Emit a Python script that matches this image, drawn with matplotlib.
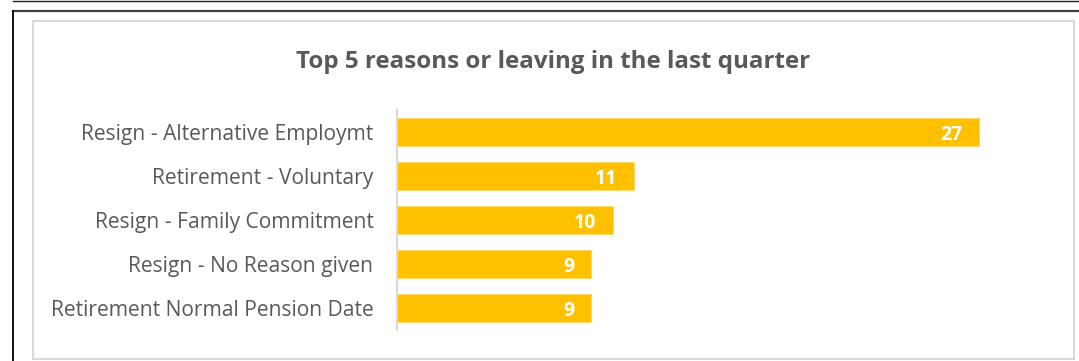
import matplotlib
matplotlib.use('Agg')
import matplotlib.pyplot as plt
from matplotlib.lines import Line2D
from matplotlib.patches import Rectangle

reasons = ['Resign - Alternative Employmt', 'Retirement - Voluntary',
           'Resign - Family Commitment', 'Resign - No Reason given',
           'Retirement Normal Pension Date']
counts = [27, 11, 10, 9, 9]
title = 'Top 5 reasons or leaving in the last quarter'

W, H = 1079, 361
plt.rcParams['font.family'] = ['Open Sans', 'DejaVu Sans']
fig = plt.figure(figsize=(W / 100, H / 100), dpi=100)

# outer frame lines (page border)
fig.add_artist(Line2D([13 / W, 1], [1 - 0.5 / H, 1 - 0.5 / H], color='#222222', lw=1.0))
fig.add_artist(Line2D([13 / W, 1], [1 - 10.5 / H, 1 - 10.5 / H], color='#404040', lw=1.6))
fig.add_artist(Line2D([13 / W, 13 / W], [0, 1 - 10.5 / H], color='#111111', lw=1.4))
# chart area border
fig.add_artist(Rectangle((33 / W, 1 - 359 / H), (1074 - 33) / W, (359 - 21) / H,
                         fill=False, edgecolor='#d9d9d9', lw=1.5))

ax = fig.add_axes([397 / W, (H - 330) / H, 647 / W, 220 / H])
y = list(range(len(reasons)))
ax.barh(y, counts, height=0.64, color='#FFC000', edgecolor='#FFD966', lw=0.6)
ax.set_xlim(0, 30)
ax.set_ylim(len(reasons) - 0.5, -0.5)
ax.set_yticks(y)
ax.set_yticklabels(reasons, fontsize=15.1, color='#595959')
ax.tick_params(axis='y', length=0, pad=17)
ax.set_xticks([])
for s in ['top', 'right', 'bottom']:
    ax.spines[s].set_visible(False)
ax.spines['left'].set_color('#d9d9d9')
ax.spines['left'].set_linewidth(1.5)

for i, v in enumerate(counts):
    ax.annotate(str(v), (v, i), xytext=(-12, 0), textcoords='offset points',
                ha='right', va='center_baseline', color='white', fontsize=14, fontweight='bold')

fig.text(553 / W, 1 - 68 / H, title, ha='center', va='baseline',
         fontsize=17.4, fontweight='bold', color='#595959')

fig.savefig('out.png', dpi=100)
